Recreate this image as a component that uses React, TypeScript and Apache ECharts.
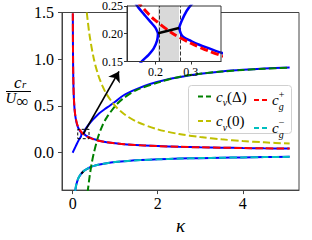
import React, { useEffect, useRef } from "react";
import * as echarts from "echarts";

// ---- data ----
const cgPlusKappa = [0.0045, 0.005, 0.006, 0.007, 0.008, 0.01, 0.012, 0.015, 0.02, 0.025, 0.03, 0.04, 0.05, 0.06, 0.08, 0.1, 0.12, 0.15, 0.18, 0.2, 0.25, 0.3, 0.35, 0.4, 0.5, 0.6, 0.8, 1.0, 1.3, 1.6, 2.0, 2.5, 3.0, 3.5, 4.0, 4.5, 5.1];
const cgPlus = [1.491, 1.414, 1.291, 1.195, 1.118, 1.0, 0.913, 0.816, 0.707, 0.632, 0.577, 0.5, 0.447, 0.408, 0.354, 0.316, 0.289, 0.258, 0.236, 0.224, 0.2, 0.183, 0.169, 0.158, 0.141, 0.129, 0.112, 0.1, 0.0877, 0.0791, 0.0707, 0.0632, 0.0577, 0.0535, 0.05, 0.0471, 0.0443];

const cgMinusKappa = [0.06, 0.07, 0.08, 0.1, 0.12, 0.15, 0.18, 0.2, 0.25, 0.3, 0.35, 0.4, 0.5, 0.6, 0.8, 1.0, 1.3, 1.6, 2.0, 2.5, 3.0, 3.5, 4.0, 4.5, 5.1];
const cgMinus = [-0.408, -0.378, -0.354, -0.316, -0.289, -0.258, -0.236, -0.224, -0.2, -0.183, -0.169, -0.158, -0.141, -0.129, -0.112, -0.1, -0.0877, -0.0791, -0.0707, -0.0632, -0.0577, -0.0535, -0.05, -0.0471, -0.0443];

const cvDeltaKappa = [0.35, 0.4, 0.45, 0.5, 0.6, 0.7, 0.8, 1.0, 1.2, 1.5, 2.0, 2.5, 3.0, 3.5, 4.0, 4.5, 5.1];
const cvDelta = [-0.43, -0.25, -0.11, 0.0, 0.17, 0.29, 0.375, 0.5, 0.585, 0.67, 0.75, 0.81, 0.845, 0.868, 0.885, 0.898, 0.91];

const cvZeroKappa = [0.333, 0.35, 0.4, 0.5, 0.6, 0.7, 0.8, 1.0, 1.2, 1.5, 2.0, 2.5, 3.0, 3.5, 4.0, 4.5, 5.1];
const cvZero = [1.5, 1.43, 1.25, 1.0, 0.833, 0.714, 0.625, 0.5, 0.417, 0.333, 0.25, 0.2, 0.167, 0.143, 0.125, 0.111, 0.098];

// exact (blue) branches
const branchAKappa = [0.0, 0.05, 0.1, 0.14, 0.163, 0.181, 0.195, 0.205, 0.2075];
const branchA = [0.0, 0.048, 0.096, 0.132, 0.151, 0.162, 0.173, 0.188, 0.201];

const branchBKappa = [0.0045, 0.005, 0.006, 0.007, 0.008, 0.01, 0.012, 0.015, 0.02, 0.025, 0.03, 0.04, 0.05, 0.06, 0.08, 0.1, 0.12, 0.149, 0.172, 0.191, 0.2, 0.2075];
const branchB = [1.49, 1.41, 1.29, 1.19, 1.115, 0.995, 0.91, 0.812, 0.703, 0.628, 0.573, 0.495, 0.442, 0.402, 0.347, 0.308, 0.28, 0.25, 0.232, 0.218, 0.211, 0.201];

const branchCKappa = [0.2667, 0.274, 0.288, 0.302, 0.35, 0.41, 0.5, 0.62, 0.75, 0.878, 1.0, 1.19, 1.5, 1.82, 2.2, 2.6, 3.0, 3.5, 4.0, 4.5, 5.1];
const branchC = [0.2105, 0.223, 0.241, 0.253, 0.285, 0.32, 0.365, 0.42, 0.465, 0.505, 0.545, 0.612, 0.68, 0.735, 0.78, 0.815, 0.845, 0.87, 0.887, 0.9, 0.912];

const branchDKappa = [0.2667, 0.272, 0.279, 0.3, 0.316, 0.35, 0.38, 0.45, 0.55, 0.7, 0.9, 1.2, 1.6, 2.0, 2.5, 3.0, 3.5, 4.0, 4.5, 5.1];
const branchD = [0.2105, 0.2, 0.194, 0.187, 0.182, 0.174, 0.167, 0.153, 0.138, 0.121, 0.106, 0.091, 0.079, 0.071, 0.063, 0.058, 0.054, 0.05, 0.047, 0.044];

const branchEKappa = [0.06, 0.07, 0.08, 0.1, 0.12, 0.15, 0.2075, 0.2667, 0.3, 0.4, 0.5, 0.6, 0.8, 1.0, 1.3, 1.6, 2.0, 2.5, 3.0, 3.5, 4.0, 4.5, 5.1];
const branchE = [-0.41, -0.38, -0.355, -0.318, -0.29, -0.26, -0.222, -0.194, -0.183, -0.158, -0.141, -0.129, -0.112, -0.1, -0.088, -0.079, -0.071, -0.063, -0.058, -0.053, -0.05, -0.047, -0.044];

// unstable band (complex roots, real part in black)
const gapKappa = [0.2075, 0.2667];
const gapUpper = [0.201, 0.2105];
const gapLower = [-0.222, -0.194];

// zoom box and arrow
const boxKappa = [0.12, 0.385];
const boxC = [0.15, 0.25];
const arrowFrom = [0.25, 0.2];
const arrowTo = [1.09, 0.87];

const xTicks = [0, 2, 4];
const yTicks = [0, 0.5, 1.0, 1.5];
const insetXTicks = [0.2, 0.3];
const insetYTicks = [0.15, 0.2, 0.25];

const zip = (k: number[], v: number[]) => k.map((x, i) => [x, v[i]]);

const SERIF = "Liberation Serif";
const DASH = [7.4, 3.2];

export default function App() {
  const ref = useRef<HTMLDivElement>(null);
  useEffect(() => {
    if (!ref.current) return;
    const chart = echarts.init(ref.current, null, { renderer: "svg" });

    const blue = (name: string, data: number[][], xi: number, width: number, z: number) => ({
      name,
      type: "line",
      xAxisIndex: xi,
      yAxisIndex: xi,
      data,
      showSymbol: false,
      symbol: "none",
      smooth: 0.3,
      z,
      lineStyle: { color: "#0000ff", width },
      itemStyle: { color: "#0000ff" },
    });
    const dashed = (name: string, data: number[][], color: string, xi: number, width: number, dash: number[], z: number) => ({
      name,
      type: "line",
      xAxisIndex: xi,
      yAxisIndex: xi,
      data,
      showSymbol: false,
      symbol: "none",
      smooth: 0.3,
      z,
      lineStyle: { color, width, type: dash },
      itemStyle: { color },
    });

    const boxData = [
      [boxKappa[0], boxC[0]],
      [boxKappa[1], boxC[0]],
      [boxKappa[1], boxC[1]],
      [boxKappa[0], boxC[1]],
      [boxKappa[0], boxC[0]],
    ];

    const richBase = {
      i: { fontFamily: SERIF, fontStyle: "italic", fontSize: 15, lineHeight: 22, color: "#000" },
      n: { fontFamily: SERIF, fontSize: 15, lineHeight: 22, color: "#000" },
      sub: { fontFamily: SERIF, fontStyle: "italic", fontSize: 10, lineHeight: 10, verticalAlign: "bottom", color: "#000" },
      subs: { fontFamily: SERIF, fontStyle: "italic", fontSize: 10, lineHeight: 10, verticalAlign: "bottom", width: 0.01, color: "#000" },
      sup: { fontFamily: SERIF, fontSize: 10, lineHeight: 10, verticalAlign: "top", color: "#000" },
    };
    const legendText: Record<string, string> = {
      "c_v(Δ)": "{i|c}{sub|v}{n|(Δ)}",
      "c_v(0)": "{i|c}{sub|v}{n|(0)}",
      "c_g^+": "{i|c}{subs|g}{sup|+}",
      "c_g^-": "{i|c}{subs|g}{sup|−}",
    };
    const icon = "path://M0,0H5V2H0Z M8,0H13V2H8Z";
    const legendCommon = {
      orient: "vertical",
      itemWidth: 13,
      itemHeight: 2.5,
      itemGap: 6,
      icon,
      selectedMode: false,
      formatter: (name: string) => legendText[name] ?? name,
      textStyle: { rich: richBase },
      z: 6,
    };

    const axisTickStyle = { lineStyle: { color: "#444", width: 1 } };

    chart.setOption({
      animation: false,
      backgroundColor: "#fff",
      grid: [
        { left: 62, top: 12.5, width: 237, height: 188.5, show: true, borderColor: "#444", borderWidth: 1, backgroundColor: "transparent" },
        { left: 127, top: 5, width: 94, height: 56.5, show: true, borderColor: "#333", borderWidth: 1, backgroundColor: "transparent", z: 30 },
      ],
      xAxis: [
        {
          type: "value",
          gridIndex: 0,
          min: -0.25,
          max: 5.32,
          name: "κ",
          nameLocation: "middle",
          nameGap: 25,
          nameTextStyle: { fontFamily: SERIF, fontStyle: "italic", fontSize: 19, color: "#000" },
          axisLine: { show: true, onZero: false, lineStyle: { color: "#444" } },
          axisTick: { show: true, length: 4, customValues: xTicks, ...axisTickStyle },
          axisLabel: { customValues: xTicks, fontFamily: SERIF, fontSize: 16, color: "#000", margin: 5, formatter: (v: number) => String(v) },
          splitLine: { show: false },
        },
        {
          type: "value",
          gridIndex: 1,
          min: 0.12,
          max: 0.385,
          z: 31,
          axisLine: { show: true, onZero: false, lineStyle: { color: "#333" } },
          axisTick: { show: true, length: 3, customValues: insetXTicks, lineStyle: { color: "#333" } },
          axisLabel: { customValues: insetXTicks, fontFamily: SERIF, fontSize: 12, color: "#000", margin: 4, formatter: (v: number) => v.toFixed(1) },
          splitLine: { show: false },
        },
      ],
      yAxis: [
        {
          type: "value",
          gridIndex: 0,
          min: -0.4,
          max: 1.5,
          axisLine: { show: true, onZero: false, lineStyle: { color: "#444" } },
          axisTick: { show: true, length: 4, customValues: yTicks, ...axisTickStyle },
          axisLabel: { customValues: yTicks, fontFamily: SERIF, fontSize: 16, color: "#000", margin: 8, formatter: (v: number) => v.toFixed(1) },
          splitLine: { show: false },
        },
        {
          type: "value",
          gridIndex: 1,
          min: 0.15,
          max: 0.25,
          z: 31,
          axisLine: { show: true, onZero: false, lineStyle: { color: "#333" } },
          axisTick: { show: true, length: 3, customValues: insetYTicks, lineStyle: { color: "#333" } },
          axisLabel: { customValues: insetYTicks, fontFamily: SERIF, fontSize: 12, color: "#000", margin: 4, formatter: (v: number) => v.toFixed(2) },
          splitLine: { show: false },
        },
      ],
      legend: [
        { ...legendCommon, left: 193, top: 84, data: ["c_v(Δ)", "c_v(0)"] },
        { ...legendCommon, left: 249, top: 84, data: ["c_g^+", "c_g^-"] },
      ],
      graphic: [
        // legend frame
        { type: "rect", z: 5, shape: { x: 188.5, y: 85.5, width: 103, height: 48, r: 3 }, style: { fill: "rgba(255,255,255,0.85)", stroke: "#d0d0d0", lineWidth: 1 } },
        // inset white background
        { type: "rect", z: 10, shape: { x: 127, y: 5, width: 94, height: 56.5 }, style: { fill: "#fff" } },
        // y axis label  c_r / U_inf
        { type: "text", z: 5, x: 14, y: 82, style: { text: "c", fontFamily: SERIF, fontStyle: "italic", fontSize: 17, lineHeight: 9, verticalAlign: "middle", fill: "#000" } },
        { type: "text", z: 5, x: 22, y: 83.5, style: { text: "r", fontFamily: SERIF, fontStyle: "italic", fontSize: 11, lineHeight: 7, verticalAlign: "middle", fill: "#000" } },
        { type: "line", z: 5, shape: { x1: 6, y1: 91.5, x2: 31, y2: 91.5 }, style: { stroke: "#000", lineWidth: 1 } },
        { type: "text", z: 5, x: 5.5, y: 97.5, style: { text: "U", fontFamily: SERIF, fontStyle: "italic", fontSize: 15, lineHeight: 9, verticalAlign: "middle", fill: "#000" } },
        { type: "text", z: 5, x: 16.5, y: 101, style: { text: "∞", fontFamily: SERIF, fontSize: 17, lineHeight: 6, verticalAlign: "middle", fill: "#000" } },
      ],
      series: [
        // main plot
        blue("A", zip(branchAKappa, branchA), 0, 2, 2),
        blue("B", zip(branchBKappa, branchB), 0, 2, 2),
        blue("C", zip(branchCKappa, branchC), 0, 2, 2),
        blue("D", zip(branchDKappa, branchD), 0, 2, 2),
        blue("E", zip(branchEKappa, branchE), 0, 2, 2),
        { name: "gapU", type: "line", xAxisIndex: 0, yAxisIndex: 0, data: zip(gapKappa, gapUpper), showSymbol: false, symbol: "none", z: 3, lineStyle: { color: "#000", width: 2 } },
        { name: "gapL", type: "line", xAxisIndex: 0, yAxisIndex: 0, data: zip(gapKappa, gapLower), showSymbol: false, symbol: "none", z: 3, lineStyle: { color: "#000", width: 2 } },
        dashed("c_v(Δ)", zip(cvDeltaKappa, cvDelta), "#008000", 0, 2, DASH, 3),
        dashed("c_v(0)", zip(cvZeroKappa, cvZero), "#bfbf00", 0, 2, DASH, 3),
        dashed("c_g^+", zip(cgPlusKappa, cgPlus), "#ff0000", 0, 2, DASH, 3),
        dashed("c_g^-", zip(cgMinusKappa, cgMinus), "#00bfbf", 0, 2, DASH, 3),
        { name: "box", type: "line", xAxisIndex: 0, yAxisIndex: 0, data: boxData, showSymbol: false, symbol: "none", z: 4, lineStyle: { color: "#000", width: 1, type: [3, 2] } },
        {
          name: "arrow",
          type: "lines",
          coordinateSystem: "cartesian2d",
          xAxisIndex: 0,
          yAxisIndex: 0,
          z: 4,
          symbol: ["none", "arrow"],
          symbolSize: [8, 10],
          lineStyle: { color: "#000", width: 1.6, opacity: 1 },
          data: [{ coords: [arrowFrom, arrowTo] }],
        },
        // inset
        {
          name: "band",
          type: "line",
          xAxisIndex: 1,
          yAxisIndex: 1,
          data: zip(gapKappa, gapUpper),
          showSymbol: false,
          symbol: "none",
          z: 15,
          lineStyle: { width: 0, opacity: 0 },
          markArea: { silent: true, z: 16, itemStyle: { color: "#d9d9d9" }, data: [[{ xAxis: gapKappa[0] }, { xAxis: gapKappa[1] }]] },
          markLine: {
            silent: true,
            z: 17,
            symbol: "none",
            label: { show: false },
            lineStyle: { color: "#333", width: 1, type: [4, 2] },
            data: [{ xAxis: gapKappa[0] }, { xAxis: gapKappa[1] }],
          },
        },
        blue("iA", zip(branchAKappa, branchA), 1, 2.5, 20),
        blue("iB", zip(branchBKappa, branchB), 1, 2.5, 20),
        blue("iC", zip(branchCKappa, branchC), 1, 2.5, 20),
        blue("iD", zip(branchDKappa, branchD), 1, 2.5, 20),
        dashed("i_cg+", zip(cgPlusKappa, cgPlus), "#ff0000", 1, 3, [8, 3.5], 21),
        { name: "igap", type: "line", xAxisIndex: 1, yAxisIndex: 1, data: zip(gapKappa, gapUpper), showSymbol: false, symbol: "none", z: 22, lineStyle: { color: "#000", width: 2.5 } },
      ],
    });
    return () => chart.dispose();
  }, []);
  return <div ref={ref} style={{ width: 312, height: 240, position: "absolute", left: 0, top: 0 }} />;
}
